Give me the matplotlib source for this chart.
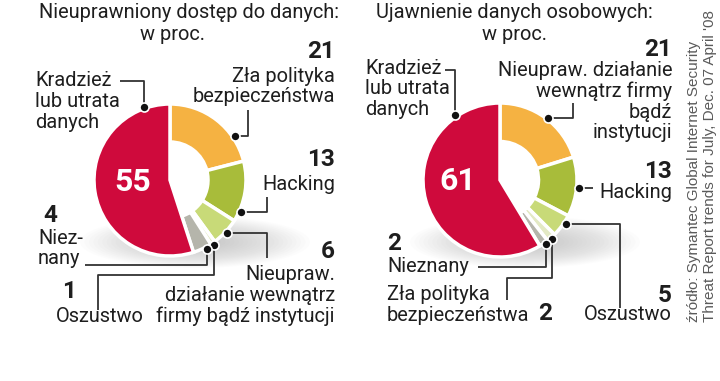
import matplotlib
matplotlib.use("Agg")
import matplotlib.pyplot as plt
from matplotlib.patches import Ellipse
import numpy as np

# ---------------- data ----------------
left_title = "Nieuprawniony dostęp do danych:"
right_title = "Ujawnienie danych osobowych:"
subtitle = "w proc."

left_categories = ["Zła polityka\nbezpieczeństwa", "Hacking",
                   "Nieupraw.\ndziałanie wewnątrz\nfirmy bądź instytucji",
                   "Oszustwo", "Niez-\nnany", "Kradzież\nlub utrata\ndanych"]
left_values = [21, 13, 6, 1, 4, 55]

right_categories = ["Nieupraw. działanie\nwewnątrz firmy\nbądź\ninstytucji", "Hacking",
                    "Oszustwo", "Zła polityka\nbezpieczeństwa", "Nieznany",
                    "Kradzież\nlub utrata\ndanych"]
right_values = [21, 13, 5, 2, 2, 61]

source_lines = ["źródło: Symantec Global Internet Security",
                "Threat Report trends for July, Dec. 07 April '08"]

# ---------------- style / layout ----------------
RED = "#CF0A3C"
ORANGE = "#F5B242"
GREEN = "#A8BC3A"
LGREEN = "#C8DA78"
PALE = "#E3E9C4"
GRAY = "#B5B5AB"
TXT = "#1E1E1E"
LINE = "#333333"

left_colors = [ORANGE, GREEN, LGREEN, PALE, GRAY, RED]
right_colors = [ORANGE, GREEN, LGREEN, PALE, GRAY, RED]

LABEL_FONT = ["Roboto", "DejaVu Sans"]
NARROW_FONT = ["Liberation Sans Narrow", "Liberation Sans", "DejaVu Sans"]
LFS = 14.4   # label font size
NFS = 17.5   # number font size

# per-slice layout: (number pos, number ha, label pos (first line), label ha, leader path, dot fraction)
left_layout = [
    dict(num=(335, 51), nha="right", lab=(335, 76), lha="right", path=[("h", 248), ("v", 110)], frac=0.74),
    dict(num=(335, 160), nha="right", lab=(335, 184), lha="right", path=[("h", 267), ("v", 197)], frac=0.82),
    dict(num=(335, 252), nha="right", lab=(335, 275), lha="right", path=[("h", 267), ("v", 258)], frac=0.5),
    dict(num=(69, 292), nha="center", lab=(100, 317), lha="center", path=[("v", 275), ("h", 98), ("v", 310)], frac=0.5),
    dict(num=(43, 215), nha="left", lab=(38, 238), lha="left", path=[("v", 265), ("h", 85)], frac=0.3),
    dict(num=None, inner=(133, 182), lab=(35, 81), lha="left", path=[("v", 81), ("h", 120)], frac=0.9),
]
right_layout = [
    dict(num=(672, 50), nha="right", lab=(672, 71), lha="right", path=[("h", 573), ("v", 103)], frac=0.52),
    dict(num=(672, 172), nha="right", lab=(672, 192), lha="right", path=[("h", 593)], frac=0.52),
    dict(num=(672, 295), nha="right", lab=(672, 315), lha="right", path=[("h", 620), ("v", 308)], frac=0.36),
    dict(num=(545, 313), nha="center", lab=(387, 295), lha="left", path=[("v", 278), ("h", 507), ("v", 300)], frac=0.5),
    dict(num=(387, 243), nha="left", lab=(387, 267), lha="left", path=[("v", 267), ("h", 478)], frac=0.3),
    dict(num=None, inner=(458, 181), lab=(365, 68), lha="left", path=[("v", 70), ("h", 445)], frac=0.836),
]

W, H = 720, 381
fig = plt.figure(figsize=(W / 100, H / 100), dpi=100)
ax = fig.add_axes([0, 0, 1, 1])


def draw_panel(values, categories, colors, layout, center, R, title_x, title):
    cx, cy = center
    # soft shadow
    n = 22
    for i in range(n):
        s = 1 - i / n * 0.85
        ax.add_patch(Ellipse((cx + 25, cy + 62), 230 * s, 52 * s, facecolor="#808080",
                             edgecolor="none", alpha=0.018, zorder=0))
    wedges, _ = ax.pie(values, colors=colors, startangle=-90, counterclock=True,
                       radius=R, center=(cx, cy), frame=True,
                       wedgeprops=dict(width=R * 0.5, edgecolor="white", linewidth=2.5))
    for w in wedges:
        w.set_zorder(2)
    wedges[-1].set_width(None)  # largest slice is a full wedge

    for w, v, cat, lay in zip(wedges, values, categories, layout):
        th = np.deg2rad(w.theta1 + lay["frac"] * (w.theta2 - w.theta1))
        dx, dy = cx + (R + 2) * np.cos(th), cy + (R + 2) * np.sin(th)
        xs, ys = [dx], [dy]
        x, y = dx, dy
        for kind, val in lay["path"]:
            if kind == "h":
                x = val
            else:
                y = val
            xs.append(x)
            ys.append(y)
        ax.plot(xs, ys, color=LINE, lw=1.3, zorder=3, solid_capstyle="butt")
        ax.plot([dx], [dy], "o", ms=6.5, color="#111111", mec="white", mew=1.2, zorder=4)

        lx, ly = lay["lab"]
        for i, line in enumerate(cat.split("\n")):
            ax.text(lx, ly + i * 20.6, line, ha=lay["lha"], va="center", fontsize=LFS,
                    color=TXT, family=LABEL_FONT, zorder=5)
        if lay["num"] is not None:
            nx, ny = lay["num"]
            ax.text(nx, ny, f"{v}", ha=lay["nha"], va="center", fontsize=NFS,
                    fontweight="bold", color=TXT, family=LABEL_FONT, zorder=5)
        else:
            ix, iy = lay["inner"]
            ax.text(ix, iy, f"{v}", ha="center", va="center", fontsize=23,
                    fontweight="bold", color="white", family=LABEL_FONT, zorder=5)

    ax.text(title_x, 12, title, ha="center", va="center", fontsize=LFS, color=TXT, family=LABEL_FONT)


draw_panel(left_values, left_categories, left_colors, left_layout, (170, 180), 76, 189, left_title)
ax.text(172, 34, subtitle, ha="center", va="center", fontsize=LFS, color=TXT, family=LABEL_FONT)
draw_panel(right_values, right_categories, right_colors, right_layout, (500, 180), 77, 514, right_title)
ax.text(514, 34, subtitle, ha="center", va="center", fontsize=LFS, color=TXT, family=LABEL_FONT)

for i, line in enumerate(source_lines):
    ax.text(694 + i * 16, 322, line, rotation=90, rotation_mode="anchor", ha="left", va="center",
            fontsize=11, color="#5a5a5a", family=NARROW_FONT)

ax.set_xlim(0, W)
ax.set_ylim(H, 0)
ax.set_aspect("equal")
ax.axis("off")
fig.savefig("out.png", dpi=100, facecolor="white")
